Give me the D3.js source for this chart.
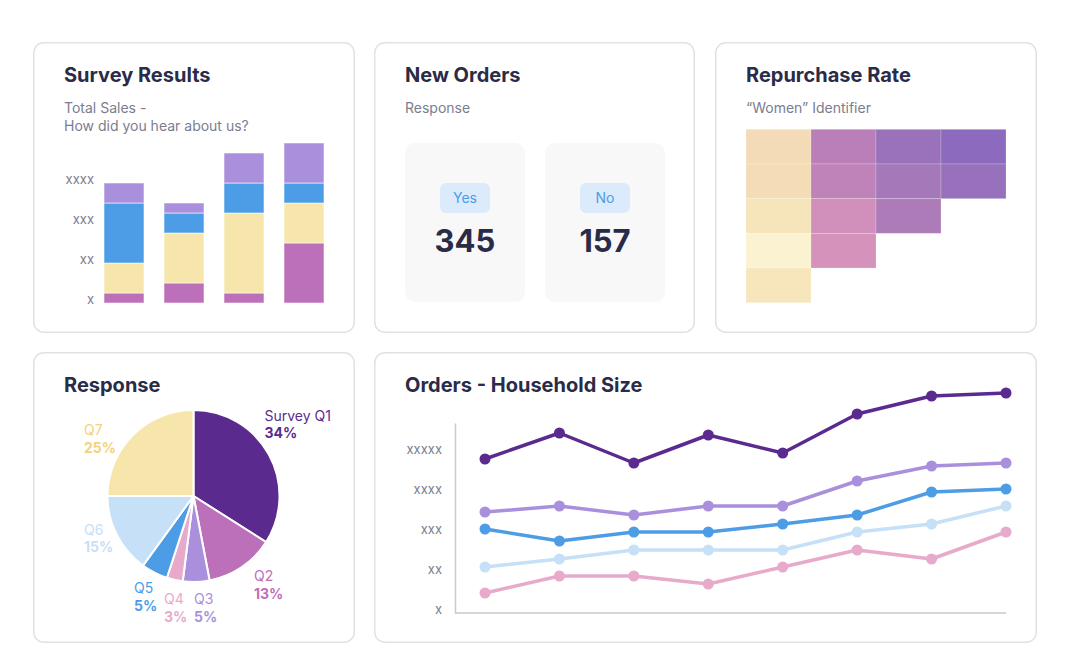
<!DOCTYPE html>
<html>
<head>
<meta charset="utf-8">
<script src="https://cdn.jsdelivr.net/npm/d3@7/dist/d3.min.js"></script>
<style>
  html, body { margin: 0; padding: 0; background: #ffffff; }
  svg { display: block; font-family: Inter, "Noto Sans", sans-serif; }
</style>
</head>
<body>
<svg id="chart" width="1066" height="672"></svg>
<script>
// ---------------- DATA ----------------
// Survey Results (stacked bars)
const surveyCategories = ["A", "B", "C", "D"];
const surveySeries = ["S1", "S2", "S3", "S4"]; // bottom -> top
const surveyS1 = [1, 2, 1, 6];
const surveyS2 = [3, 5, 8, 4];
const surveyS3 = [6, 2, 3, 2];
const surveyS4 = [2, 1, 3, 4];
const surveyTickValues = [0, 4, 8, 12];
const surveyTickLabels = ["x", "xx", "xxx", "xxxx"];

// New Orders
const orderLabels = ["Yes", "No"];
const orderValues = [345, 157];

// Repurchase Rate (cohort heatmap), rows top -> bottom, null = empty
const cohortColumns = ["C1", "C2", "C3", "C4"];
const cohortRows = ["R1", "R2", "R3", "R4", "R5"];
const cohortCol1 = [19, 18, 12, 1, 10];
const cohortCol2 = [52, 48, 35, 32, null];
const cohortCol3 = [82, 70, 62, null, null];
const cohortCol4 = [100, 85, null, null, null];

// Response (pie)
const pieLabels = ["Survey Q1", "Q2", "Q3", "Q4", "Q5", "Q6", "Q7"];
const pieValues = [34, 13, 5, 3, 5, 15, 25];

// Orders - Household Size (lines)
const lineCategories = ["1", "2", "3", "4", "5", "6", "7", "8"];
const lineDark     = [15.4, 18.0, 15.0, 17.8, 16.0, 19.9, 21.7, 22.0];
const lineLavender = [10.1, 10.7, 9.8, 10.7, 10.7, 13.2, 14.7, 15.0];
const lineBlue     = [8.4, 7.2, 8.1, 8.1, 8.9, 9.8, 12.1, 12.4];
const lineLight    = [4.6, 5.4, 6.3, 6.3, 6.3, 8.1, 8.9, 10.7];
const linePink     = [2.0, 3.7, 3.7, 2.9, 4.6, 6.3, 5.4, 8.1];
const lineTickValues = [0, 4, 8, 12, 16];
const lineTickLabels = ["x", "xx", "xxx", "xxxx", "xxxxx"];

// ---------------- STYLE ----------------
const C = {
  title: "#2a2b47",
  sub: "#7a7d8f",
  tick: "#7b7e90",
  darkPurple: "#5b2a8e",
  magenta: "#bc70b9",
  lavender: "#aa90dc",
  pink: "#e8aacb",
  blue: "#4d9de6",
  lightBlue: "#c6e0f8",
  yellow: "#f7e6ab",
  yellowText: "#f2d37c",
  border: "#e2e2e6",
  axis: "#c9c9ce"
};

const svg = d3.select("#chart");
svg.append("rect").attr("width", 1066).attr("height", 672).attr("fill", "#fff");

// Cards
const cards = [
  { x: 33, y: 42, w: 322, h: 291 },
  { x: 374, y: 42, w: 321, h: 291 },
  { x: 715, y: 42, w: 322, h: 291 },
  { x: 33, y: 352, w: 322, h: 291 },
  { x: 374, y: 352, w: 663, h: 291 }
];
svg.selectAll("rect.card").data(cards).join("rect")
  .attr("class", "card")
  .attr("x", d => d.x + 0.75).attr("y", d => d.y + 0.75)
  .attr("width", d => d.w - 1.5).attr("height", d => d.h - 1.5)
  .attr("rx", 10).attr("fill", "#fff")
  .attr("stroke", C.border).attr("stroke-width", 1.5);

function title(x, y, t) {
  svg.append("text").attr("x", x).attr("y", y).text(t)
    .attr("font-size", 20).attr("font-weight", 700).attr("fill", C.title);
}
function subtitle(x, y, t) {
  svg.append("text").attr("x", x).attr("y", y).text(t)
    .attr("font-size", 14).attr("fill", C.sub);
}

// ---------------- Survey Results ----------------
title(64, 82, "Survey Results");
subtitle(64, 112.5, "Total Sales -");
subtitle(64, 130.5, "How did you hear about us?");

const surveyColors = [C.magenta, C.yellow, C.blue, C.lavender];
const surveyTable = surveyCategories.map((c, i) => ({
  cat: c, S1: surveyS1[i], S2: surveyS2[i], S3: surveyS3[i], S4: surveyS4[i]
}));
const stack = d3.stack().keys(surveySeries)(surveyTable);
const bx = d3.scaleBand().domain(surveyCategories).range([104, 324]).paddingInner(1 / 3).paddingOuter(0);
const by = d3.scaleLinear().domain([0, 16]).range([303, 143]);

const gBars = svg.append("g");
gBars.selectAll("g").data(stack).join("g")
  .attr("fill", (d, i) => surveyColors[i])
  .selectAll("rect").data(d => d).join("rect")
  .attr("x", d => bx(d.data.cat))
  .attr("y", d => by(d[1]))
  .attr("width", bx.bandwidth())
  .attr("height", d => by(d[0]) - by(d[1]))
  .attr("stroke", "rgba(255,255,255,0.55)").attr("stroke-width", 1);

const yAxisBar = d3.axisLeft(by).tickValues(surveyTickValues)
  .tickFormat((d, i) => surveyTickLabels[i]).tickSize(0).tickPadding(0);
const gYB = svg.append("g").attr("transform", "translate(94,0)").call(yAxisBar);
gYB.select(".domain").remove();
gYB.selectAll("text").attr("dy", 0).attr("font-size", 13).attr("fill", C.tick)
  .attr("font-family", "Inter, sans-serif");

// ---------------- New Orders ----------------
title(405, 82, "New Orders");
subtitle(405, 112.5, "Response");

const ox = d3.scaleBand().domain(orderLabels).range([405, 665]).paddingInner(20 / 140).paddingOuter(0);
const gOrders = svg.selectAll("g.order").data(orderLabels.map((l, i) => ({ l, v: orderValues[i] })))
  .join("g").attr("class", "order")
  .attr("transform", d => `translate(${ox(d.l)},143)`);
gOrders.append("rect").attr("width", ox.bandwidth()).attr("height", 159)
  .attr("rx", 10).attr("fill", "#f8f8f9");
gOrders.append("rect").attr("x", ox.bandwidth() / 2 - 25).attr("y", 40)
  .attr("width", 50).attr("height", 30).attr("rx", 6).attr("fill", "#dcebfb");
gOrders.append("text").attr("x", ox.bandwidth() / 2).attr("y", 60)
  .attr("text-anchor", "middle").attr("font-size", 14).attr("fill", C.blue)
  .text(d => d.l);
gOrders.append("text").attr("x", ox.bandwidth() / 2).attr("y", 109)
  .attr("text-anchor", "middle").attr("font-size", 31).attr("font-weight", 700)
  .attr("fill", C.title).text(d => d.v);

// ---------------- Repurchase Rate ----------------
title(746, 82, "Repurchase Rate");
subtitle(746, 112.5, "\u201CWomen\u201D Identifier");

const cohortData = [cohortCol1, cohortCol2, cohortCol3, cohortCol4];
const cells = [];
cohortData.forEach((col, ci) => col.forEach((v, ri) => {
  if (v !== null) cells.push({ c: cohortColumns[ci], r: cohortRows[ri], v });
}));
const hx = d3.scaleBand().domain(cohortColumns).range([746, 1006]);
const hy = d3.scaleBand().domain(cohortRows).range([129.3, 302.7]);
const hColor = d3.scaleLinear()
  .domain([0, 10, 20, 30, 50, 70, 100])
  .range(["#fbf3d4", "#f7e6bc", "#f3dab6", "#d894bb", "#bc80b9", "#a478b9", "#8c6abe"]);
svg.append("g").selectAll("rect").data(cells).join("rect")
  .attr("x", d => hx(d.c)).attr("y", d => hy(d.r))
  .attr("width", hx.bandwidth()).attr("height", hy.bandwidth())
  .attr("fill", d => hColor(d.v))
  .attr("stroke", "rgba(255,255,255,0.25)").attr("stroke-width", 0.8);

// ---------------- Response (pie) ----------------
title(64, 392, "Response");
const pieColors = [C.darkPurple, C.magenta, C.lavender, C.pink, C.blue, C.lightBlue, C.yellow];
const pieTextColors = [C.darkPurple, C.magenta, C.lavender, C.pink, C.blue, C.lightBlue, C.yellowText];
const pcx = 193.5, pcy = 496;
const pie = d3.pie().sort(null).value(d => d)(pieValues);
const arc = d3.arc().innerRadius(0).outerRadius(86);
const gPie = svg.append("g").attr("transform", `translate(${pcx},${pcy})`);
gPie.selectAll("path").data(pie).join("path")
  .attr("d", arc).attr("fill", (d, i) => pieColors[i])
  .attr("stroke", "#fff").attr("stroke-width", 2).attr("stroke-linejoin", "round");

// label layout offsets (relative to pie centre): [dx, dy of first baseline]
const pieLabelLayout = [
  [71, -75.5], [60.5, 85], [0.5, 108], [-29.5, 108], [-59.5, 97], [-109.5, 38.5], [-109.5, -61]
];
const gLab = gPie.selectAll("g.lab").data(pie).join("g").attr("class", "lab")
  .attr("transform", (d, i) => `translate(${pieLabelLayout[i][0]},${pieLabelLayout[i][1]})`);
gLab.append("text").attr("font-size", 14).attr("fill", (d, i) => pieTextColors[i])
  .text((d, i) => pieLabels[i]);
gLab.append("text").attr("y", 17.5).attr("font-size", 14).attr("font-weight", 700)
  .attr("fill", (d, i) => pieTextColors[i]).text(d => d.data + "%");

// ---------------- Orders - Household Size ----------------
title(405, 392, "Orders - Household Size");
const lx = d3.scalePoint().domain(lineCategories).range([485, 1006]);
const ly = d3.scaleLinear().domain([0, 19]).range([613, 423]);

const yAxisLine = d3.axisLeft(ly).tickValues(lineTickValues)
  .tickFormat((d, i) => lineTickLabels[i]).tickSize(0).tickPadding(13).tickSizeOuter(0);
const gYL = svg.append("g").attr("transform", "translate(455,0)").call(yAxisLine);
gYL.select(".domain").attr("stroke", C.axis).attr("stroke-width", 1.5);
gYL.selectAll("text").attr("dy", 0).attr("font-size", 13).attr("fill", C.tick)
  .attr("font-family", "Inter, sans-serif");
svg.append("line").attr("x1", 455).attr("x2", lx.range()[1])
  .attr("y1", ly(0)).attr("y2", ly(0)).attr("stroke", C.axis).attr("stroke-width", 1.5);

const lineSeries = [
  { vals: linePink, color: C.pink },
  { vals: lineLight, color: C.lightBlue },
  { vals: lineBlue, color: C.blue },
  { vals: lineLavender, color: C.lavender },
  { vals: lineDark, color: C.darkPurple }
];
const lineGen = d3.line().x((d, i) => lx(lineCategories[i])).y(d => ly(d));
const gLines = svg.append("g");
lineSeries.forEach(s => {
  gLines.append("path").attr("d", lineGen(s.vals)).attr("fill", "none")
    .attr("stroke", s.color).attr("stroke-width", 3.5)
    .attr("stroke-linejoin", "round").attr("stroke-linecap", "round");
  gLines.append("g").selectAll("circle").data(s.vals).join("circle")
    .attr("cx", (d, i) => lx(lineCategories[i])).attr("cy", d => ly(d))
    .attr("r", 5.5).attr("fill", s.color);
});
</script>
</body>
</html>
